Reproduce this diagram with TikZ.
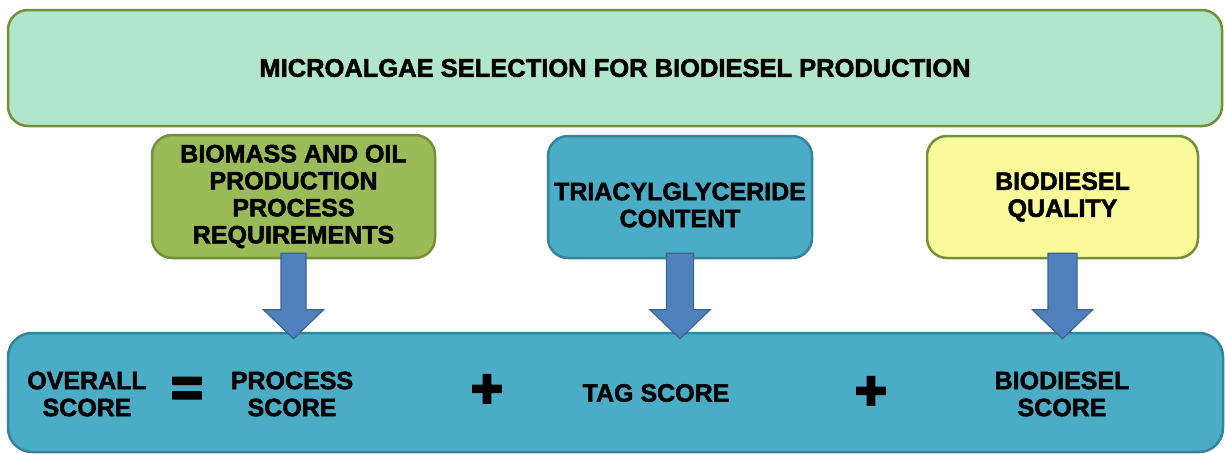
\documentclass[tikz,border=0pt]{standalone}
\usepackage{fontspec}
\setmainfont{Liberation Sans}[BoldFeatures={FakeBold=2}]
\newfontfamily\opfont{Liberation Sans Bold}[FakeBold=5]
\usetikzlibrary{calc}

\definecolor{mintfill}{HTML}{B2E6CA}
\definecolor{olivedraw}{HTML}{72903A}
\definecolor{greenfill}{HTML}{9BBB59}
\definecolor{tealfill}{HTML}{4BACC6}
\definecolor{tealdraw}{HTML}{34849A}
\definecolor{yellowfill}{HTML}{FAFA9A}
\definecolor{arrowfill}{HTML}{4F81BD}
\definecolor{arrowdraw}{HTML}{3A6494}

\tikzset{
  box/.style={rectangle, rounded corners=20pt, line width=2.5pt, align=center,
    inner sep=0pt, font=\fontsize{25}{27}\selectfont\bfseries},
  txt/.style={align=center, inner sep=0pt, font=\fontsize{25}{27}\selectfont\bfseries},
  operator/.style={inner sep=0pt, font=\fontsize{54}{54}\selectfont\opfont},
  blockarrow/.style={fill=arrowfill, draw=arrowdraw, line width=1.2pt, line join=miter},
}

\begin{document}
\begin{tikzpicture}[x=1pt, y=-1pt]
  \useasboundingbox (0,0) rectangle (1225,453);

  % title bar
  \node[box, fill=mintfill, draw=olivedraw, minimum width=1214pt, minimum height=116pt,
    font=\fontsize{25.5}{27}\selectfont\bfseries]
    (title) at (615,68) {MICROALGAE SELECTION FOR BIODIESEL PRODUCTION};

  % the three criteria
  \node[box, fill=greenfill, draw=olivedraw, minimum width=283pt, minimum height=123pt]
    (proc) at (293.5,196.5) {BIOMASS AND OIL\\PRODUCTION\\PROCESS\\REQUIREMENTS};
  \node[box, fill=tealfill, draw=tealdraw, minimum width=264pt, minimum height=122pt]
    (tag) at (680,197) {};
  \node[txt] (tagtext) at (680,205) {TRIACYLGLYCERIDE\\CONTENT};
  \node[box, fill=yellowfill, draw=olivedraw, minimum width=271pt, minimum height=122pt]
    (qual) at (1062.5,197) {BIODIESEL\\QUALITY};

  % score equation
  \node[box, rounded corners=24pt, fill=tealfill, draw=tealdraw,
    minimum width=1215pt, minimum height=119pt] (score) at (615.5,392.5) {};
  \node[txt] (overall) at (87,394) {OVERALL\\SCORE};
  \node[operator] (eq) at (187,392) {=};
  \node[txt] (pscore) at (292,394) {PROCESS\\SCORE};
  \node[operator] (plusA) at (487,391) {+};
  \node[txt] (tscore) at (656,393) {TAG SCORE};
  \node[operator] (plusB) at (871,393) {+};
  \node[txt] (bscore) at (1062,394) {BIODIESEL\\SCORE};

  % block arrows from each criterion down to the score bar
  \foreach \src/\hw in {proc/12.5, tag/13.5, qual/14.5}{
    \draw[blockarrow]
      let \p1 = ($(\src.south)+(0,-6)$), \p2 = (score.north -| \src.south) in
      (\x1-\hw, \y1) -- (\x1+\hw, \y1) -- (\x1+\hw, \y2+22)
      -- (\x1+30, \y2+22) -- (\x1, \y2-7) -- (\x1-30, \y2+22)
      -- (\x1-\hw, \y2+22) -- cycle;
  }
\end{tikzpicture}
\end{document}
